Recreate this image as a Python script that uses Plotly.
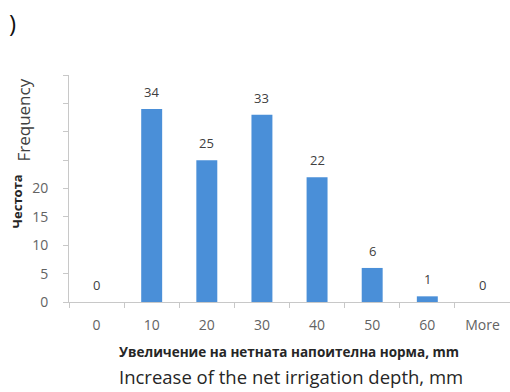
import plotly.graph_objects as go

# Histogram of the increase of the net irrigation depth
bins = ["0", "10", "20", "30", "40", "50", "60", "More"]
frequency = [0, 34, 25, 33, 22, 6, 1, 0]

y_ticks = [0, 5, 10, 15, 20, 25, 30, 35, 40]
y_tick_labels = ["0", "5", "10", "15", "20", "", "", "", ""]

title_bg = "Увеличение на нетната напоителна норма, mm"
title_en = "Increase of the net irrigation depth, mm"
ytitle_bg = "Честота"
ytitle_en = "Frequency"

BAR = "#4a8fd8"
AXIS = "#c8c8c8"
TICKTXT = "#636363"
FONT = "Open Sans"


def note(x, y, text, size, color, angle=0, bold=False):
    fig.add_annotation(xref="paper", yref="paper", x=x, y=y,
                       text=f"<b>{text}</b>" if bold else text,
                       textangle=angle, showarrow=False,
                       xanchor="center", yanchor="middle",
                       font=dict(family=FONT, size=size, color=color))


fig = go.Figure(go.Bar(x=bins, y=frequency, marker_color=BAR, marker_line_width=0))

# value labels above each bar (category index positions)
for i, v in enumerate(frequency):
    fig.add_annotation(x=i, y=v, text=str(v), showarrow=False, yshift=17,
                       xanchor="center", yanchor="middle",
                       font=dict(family=FONT, size=13, color="#404040"))

note(-0.104, 0.8, ytitle_en, 17, "#404040", angle=-90)
note(-0.118, 0.443, ytitle_bg, 13, "#262626", angle=-90, bold=True)
note(0.498, -0.220, title_bg, 13.5, "#262626", bold=True)
note(0.503, -0.33, title_en, 18.5, "#262626")
note(-0.129, 1.233, ")", 24, "#111111")

fig.update_layout(
    width=510, height=392,
    margin=dict(l=69, r=0, t=75, b=90),
    paper_bgcolor="white", plot_bgcolor="white",
    bargap=0.62, showlegend=False,
)
fig.update_xaxes(type="category", range=[-0.5, 7.5], showline=True, linecolor=AXIS,
                 linewidth=1, ticks="outside", tickson="boundaries", ticklen=5,
                 tickcolor=AXIS, showgrid=False, ticklabelstandoff=10,
                 tickfont=dict(family=FONT, size=14, color=TICKTXT))
fig.update_yaxes(range=[0, 40], tickvals=y_ticks, ticktext=y_tick_labels,
                 showline=True, linecolor=AXIS, linewidth=1, ticks="outside", ticklen=5,
                 tickcolor=AXIS, showgrid=False, zeroline=False, ticklabelstandoff=12,
                 tickfont=dict(family=FONT, size=14, color=TICKTXT))

fig.write_html("out.html")
